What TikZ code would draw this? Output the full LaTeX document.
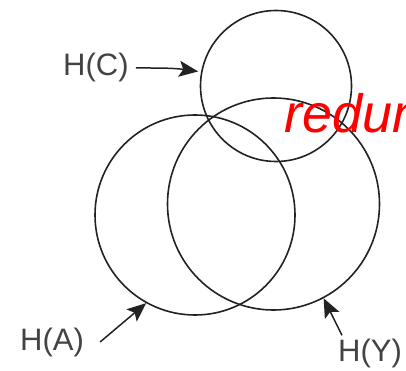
\documentclass[tikz,border=0pt]{standalone}
\usepackage{fontspec}
\setmainfont{Liberation Sans}
\usetikzlibrary{arrows.meta}
\definecolor{ink}{HTML}{222222}
\tikzset{
  setcircle/.style={draw=ink, line width=1.6pt, circle, inner sep=0pt, minimum size=#1},
  lbl/.style={font=\fontsize{31}{31}\selectfont, text=ink!85, inner sep=0pt, anchor=base west},
  pointer/.style={draw=ink, line width=1.5pt, -{Stealth[length=19pt,width=16pt,inset=4pt]}}
}
\begin{document}
\begin{tikzpicture}[x=1pt,y=-1pt]
\useasboundingbox (0,0) rectangle (406,371);
\clip (0,0) rectangle (406,371);
\node[setcircle=151pt] (cC) at (276,86) {};
\node[setcircle=200pt] (cA) at (195,215) {};
\node[setcircle=212pt] (cY) at (273.5,204) {};
\node[lbl] (lC) at (63,76) {H(C)};
\node[lbl] (lA) at (20,350) {H(A)};
\node[lbl] (lY) at (338,361) {H(Y)};
\node[anchor=base west, inner sep=0pt, text=red, font=\fontsize{54}{54}\selectfont\itshape] (red) at (284,133) {redun};
\draw[pointer] ([xshift=7pt]lC.east) to[out=0,in=172] ([xshift=-3pt]cC.169);
\draw[pointer] ([xshift=16pt]lA.east) -- (cA.241);
\draw[pointer] ([xshift=4pt,yshift=3pt]lY.north west) -- (cY.298);
\end{tikzpicture}
\end{document}
